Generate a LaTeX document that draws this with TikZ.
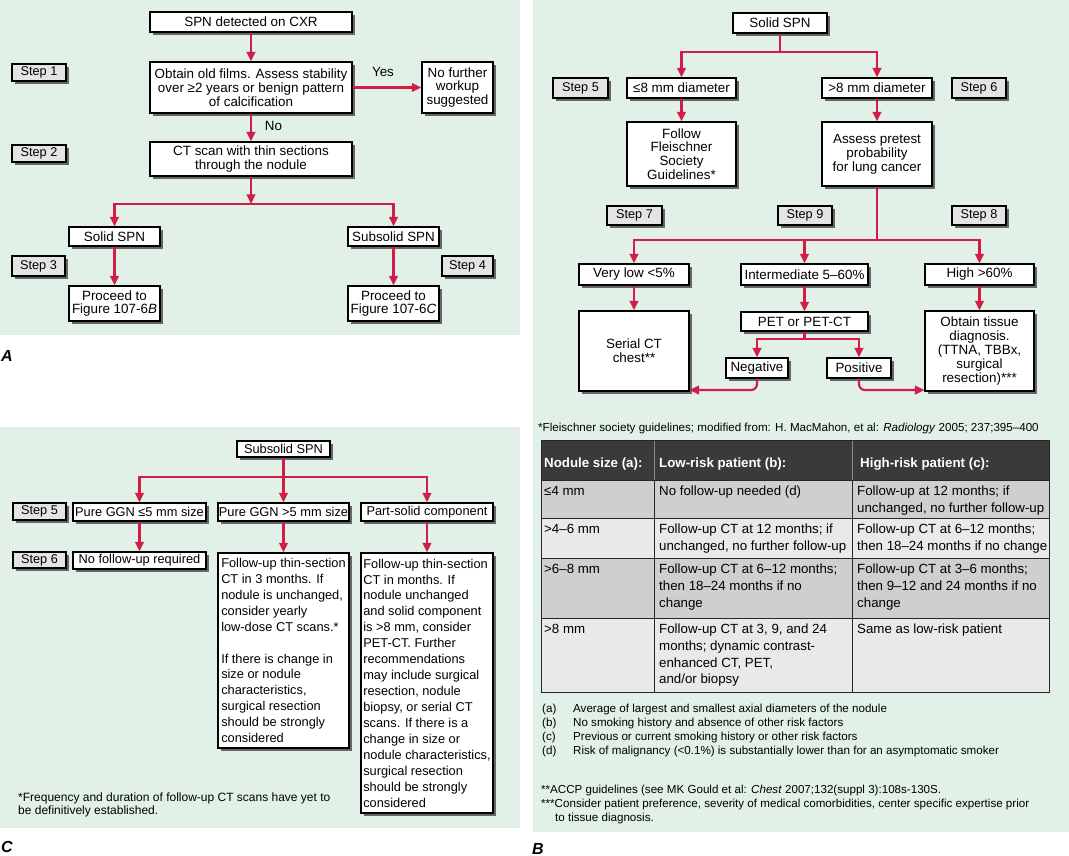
\documentclass[tikz,border=0pt]{standalone}
\usepackage{fontspec}
\setmainfont{Liberation Sans}
\usetikzlibrary{arrows.meta,shadows,calc}
\definecolor{bggreen}{RGB}{225,241,231}
\definecolor{arrred}{RGB}{212,28,72}
\definecolor{stepgray}{RGB}{228,228,228}
\definecolor{hdrgray}{RGB}{58,58,58}
\definecolor{rowdark}{RGB}{205,207,208}
\definecolor{rowlight}{RGB}{232,233,234}
\tikzset{
  nbox/.style={draw=black, line width=1.1pt, fill=white, inner sep=0pt, align=center,
    font=\fontsize{13.4}{13.8}\selectfont,
    drop shadow={shadow xshift=2.8pt, shadow yshift=-2.8pt, fill=black!60, opacity=1}},
  stepbox/.style={nbox, fill=stepgray, font=\fontsize{12.7}{13}\selectfont},
  cbox/.style={nbox, font=\fontsize{12.8}{15.93}\selectfont},
  lbox/.style={cbox, align=left},
  conn/.style={draw=arrred, line width=2.2pt},
  arr/.style={conn, -{Triangle[length=9.5pt,width=8.5pt]}},
  lbl/.style={inner sep=0pt, font=\fontsize{13.4}{14}\selectfont},
  cell/.style={anchor=north west, inner sep=0pt, align=left, font=\fontsize{13.3}{16.8}\selectfont},
  hcell/.style={cell, text=white, font=\fontsize{13.3}{16.8}\selectfont\bfseries},
  tline/.style={draw=black!85, line width=1pt},
  notetext/.style={anchor=base west, inner sep=0pt, font=\fontsize{11.6}{14}\selectfont},
  cnote/.style={notetext, font=\fontsize{12}{13.5}\selectfont},
  plabel/.style={inner sep=0pt, font=\fontsize{16}{16}\selectfont\bfseries\itshape},
}
\newcommand\mkbox[7]{%
  \pgfmathsetmacro\mkbcx{(#3+#5)/2}%
  \pgfmathsetmacro\mkbcy{(#4+#6)/2}%
  \pgfmathsetmacro\mkbw{#5-#3}%
  \pgfmathsetmacro\mkbh{#6-#4}%
  \node[#1,minimum width=\mkbw pt,minimum height=\mkbh pt] (#2) at (\mkbcx,\mkbcy) {#7};%
}
\begin{document}
\begin{tikzpicture}[x=1pt,y=-1pt]
\path[use as bounding box] (0,0) rectangle (1069,856);
% panels
\fill[bggreen] (0,0) rectangle (520,335);
\fill[bggreen] (533,0) rectangle (1069,832);
\fill[bggreen] (0,427) rectangle (520,828);

% ---------------- Panel A ----------------
\mkbox{nbox}{a1}{150}{12}{352}{32}{SPN detected on CXR}
\mkbox{nbox}{a2}{150}{62}{352}{113}{Obtain old films. Assess stability\\over ≥2 years or benign pattern\\of calcification}
\mkbox{nbox}{a3}{422}{62}{493}{113}{No further\\workup\\suggested}
\mkbox{nbox}{a4}{150}{142}{352}{176}{CT scan with thin sections\\through the nodule}
\mkbox{nbox}{a5}{69}{227}{160}{246}{Solid SPN}
\mkbox{nbox}{a6}{348}{227}{439}{246}{Subsolid SPN}
\mkbox{nbox}{a7}{69}{286}{160}{321}{Proceed to\\Figure 107-6\textit{B}}
\mkbox{nbox}{a8}{348}{286}{439}{321}{Proceed to\\Figure 107-6\textit{C}}
\mkbox{stepbox}{sa1}{12}{64}{66}{81}{Step 1}
\mkbox{stepbox}{sa2}{12}{145}{66}{162}{Step 2}
\mkbox{stepbox}{sa3}{12}{256}{65}{276}{Step 3}
\mkbox{stepbox}{sa4}{442}{256}{493}{276}{Step 4}
\node[lbl] (yes) at (383,72) {Yes};
\node[lbl] (no) at (273.5,126) {No};
\coordinate (ja) at (251,204);
\draw[arr] (a1) -- (a2);
\draw[arr] (a2) -- (a3);
\draw[arr] (a2) -- (a4);
\draw[arr] (a4) -- (ja);
\draw[arr] (ja) -| (a5.north);
\draw[arr] (ja) -| (a6.north);
\draw[arr] (a5) -- (a7);
\draw[arr] (a6) -- (a8);
\node[plabel] (labA) at (7,356) {A};

% ---------------- Panel B ----------------
\mkbox{nbox}{b1}{733}{13}{827}{33}{Solid SPN}
\mkbox{nbox}{b2}{627}{78}{736}{98}{≤8 mm diameter}
\mkbox{nbox}{b3}{822}{78}{932}{98}{>8 mm diameter}
\mkbox{nbox}{b4}{627}{122}{736}{186}{Follow\\Fleischner\\Society\\Guidelines*}
\mkbox{nbox}{b5}{822}{122}{932}{186}{Assess pretest\\probability\\for lung cancer}
\mkbox{stepbox}{sb5}{553}{78}{608}{98}{Step 5}
\mkbox{stepbox}{sb6}{952}{78}{1006}{98}{Step 6}
\mkbox{stepbox}{sb7}{607}{206}{662}{225}{Step 7}
\mkbox{stepbox}{sb9}{778}{206}{832}{225}{Step 9}
\mkbox{stepbox}{sb8}{952}{206}{1006}{225}{Step 8}
\mkbox{nbox}{b6}{579}{264}{689}{285}{Very low <5\%}
\mkbox{nbox}{b7}{741}{264}{868}{285}{Intermediate 5–60\%}
\mkbox{nbox}{b8}{925}{264}{1034}{285}{High >60\%}
\mkbox{nbox}{b9}{579}{311}{689}{391}{Serial CT\\chest**}
\mkbox{nbox}{pet}{741}{312}{868}{331}{PET or PET-CT}
\mkbox{nbox}{neg}{726}{358}{788}{378}{Negative}
\mkbox{nbox}{pos}{827}{358}{891}{378}{Positive}
\mkbox{nbox}{b10}{925}{311}{1034}{391}{Obtain tissue\\diagnosis.\\(TTNA, TBBx,\\surgical\\resection)***}
\coordinate (jb1) at (780,52);
\coordinate (jb2) at (877,240);
\coordinate (jb2m) at (804.5,240);
\coordinate (jb3) at (804.5,339);
\draw[conn] (b1) -- (jb1);
\draw[arr] (jb1) -| (b2.north);
\draw[arr] (jb1) -| (b3.north);
\draw[arr] (b2) -- (b4);
\draw[arr] (b3) -- (b5);
\draw[conn] (b5) -- (jb2);
\draw[arr] (jb2) -| (b6.north);
\draw[arr] (jb2) -| (b8.north);
\draw[arr] (jb2m) -- (b7.north);
\draw[arr] (b6) -- (b9);
\draw[arr] (b7) -- (pet);
\draw[arr] (b8) -- (b10);
\draw[conn] (pet) -- (jb3);
\draw[arr] (jb3) -| (neg.north);
\draw[arr] (jb3) -| (pos.north);
\draw[arr, rounded corners=6pt] (neg.south) |- ([yshift=1.5pt]b9.south east);
\draw[arr, rounded corners=6pt] (pos.south) |- ([yshift=1.5pt]b10.south west);

\node[notetext] (fn1) at (538,431) {*Fleischner society guidelines; modified from: H. MacMahon, et al: \textit{Radiology} 2005; 237;395–400};

% table
\fill[hdrgray] (541,440) rectangle (1049,480);
\fill[rowdark] (541,480) rectangle (1049,518);
\fill[rowlight] (541,518) rectangle (1049,558);
\fill[rowdark] (541,558) rectangle (1049,618);
\fill[rowlight] (541,618) rectangle (1049,692);
\draw[black!45, line width=0.8pt] (654,440) -- (654,480) (852,440) -- (852,480);
\foreach \yy in {480,518,558,618} \draw[tline] (541,\yy) -- (1049,\yy);
\draw[tline] (654,480) -- (654,692) (852,480) -- (852,692);
\draw[tline] (541,440) rectangle (1049,692);
\node[hcell] (h1) at (544,456) {\strut Nodule size (a):};
\node[hcell] (h2) at (659,456) {\strut Low-risk patient (b):};
\node[hcell] (h3) at (860,456) {\strut High-risk patient (c):};
\node[cell] (r11) at (544,483.5) {\strut ≤4 mm};
\node[cell] (r12) at (659,483.5) {\strut No follow-up needed (d)};
\node[cell] (r13) at (857,483.5) {\strut Follow-up at 12 months; if\\unchanged, no further follow-up};
\node[cell] (r21) at (544,521.5) {\strut >4–6 mm};
\node[cell] (r22) at (659,521.5) {\strut Follow-up CT at 12 months; if\\unchanged, no further follow-up};
\node[cell] (r23) at (857,521.5) {\strut Follow-up CT at 6–12 months;\\then 18–24 months if no change};
\node[cell] (r31) at (544,561.5) {\strut >6–8 mm};
\node[cell] (r32) at (659,561.5) {\strut Follow-up CT at 6–12 months;\\then 18–24 months if no\\change};
\node[cell] (r33) at (857,561.5) {\strut Follow-up CT at 3–6 months;\\then 9–12 and 24 months if no\\change};
\node[cell] (r41) at (544,621.5) {\strut >8 mm};
\node[cell] (r42) at (659,621.5) {\strut Follow-up CT at 3, 9, and 24\\months; dynamic contrast-\\enhanced CT, PET,\\and/or biopsy};
\node[cell] (r43) at (857,621.5) {\strut Same as low-risk patient};

\node[notetext] (na) at (542,712.8) {(a)};
\node[notetext] (nb) at (542,726.8) {(b)};
\node[notetext] (nc) at (542,740.8) {(c)};
\node[notetext] (nd) at (542,754.8) {(d)};
\node[notetext] (ta) at (573,712.8) {Average of largest and smallest axial diameters of the nodule};
\node[notetext] (tb) at (573,726.8) {No smoking history and absence of other risk factors};
\node[notetext] (tc) at (573,740.8) {Previous or current smoking history or other risk factors};
\node[notetext] (td) at (573,754.8) {Risk of malignancy (<0.1\%) is substantially lower than for an asymptomatic smoker};
\node[notetext] (fn2) at (541,793) {**ACCP guidelines (see MK Gould et al: \textit{Chest} 2007;132(suppl 3):108s-130S.};
\node[notetext] (fn3) at (541,807) {***Consider patient preference, severity of medical comorbidities, center specific expertise prior};
\node[notetext] (fn3b) at (555,821) {to tissue diagnosis.};
\node[plabel] (labB) at (538,849) {B};

% ---------------- Panel C ----------------
\mkbox{cbox}{c0}{237}{441}{330}{457}{Subsolid SPN}
\mkbox{cbox}{c1}{73}{503}{206}{521}{Pure GGN ≤5 mm size}
\mkbox{cbox}{c2}{218}{503}{349}{521}{Pure GGN >5 mm size}
\mkbox{cbox}{c3}{361}{503}{493}{521}{Part-solid component}
\mkbox{cbox}{c4}{73}{552}{206}{569}{No follow-up required}
\mkbox{lbox}{c5}{218}{553}{349}{748}{Follow-up thin-section\\CT in 3 months. If\\nodule is unchanged,\\consider yearly\\low-dose CT scans.*\\[15.93pt]If there is change in\\size or nodule\\characteristics,\\surgical resection\\should be strongly\\considered}
\mkbox{lbox}{c6}{361}{553}{493}{813}{Follow-up thin-section\\CT in months. If\\nodule unchanged\\and solid component\\is >8 mm, consider\\PET-CT. Further\\recommendations\\may include surgical\\resection, nodule\\biopsy, or serial CT\\scans. If there is a\\change in size or\\nodule characteristics,\\surgical resection\\should be strongly\\considered}
\mkbox{stepbox}{sc5}{13}{503}{66}{520}{Step 5}
\mkbox{stepbox}{sc6}{13}{552}{66}{568}{Step 6}
\coordinate (jc) at (283.5,477);
\draw[conn] (c0) -- (jc);
\draw[arr] (jc) -| (c1.north);
\draw[arr] (jc) -| (c3.north);
\draw[arr] (jc) -- (c2.north);
\draw[arr] (c1) -- (c4);
\draw[arr] (c2) -- (c5);
\draw[arr] (c3) -- (c6);
\node[cnote] (fc1) at (18,801) {*Frequency and duration of follow-up CT scans have yet to};
\node[cnote] (fc2) at (18,814) {be definitively established.};
\node[plabel] (labC) at (7,847) {C};
\end{tikzpicture}
\end{document}
